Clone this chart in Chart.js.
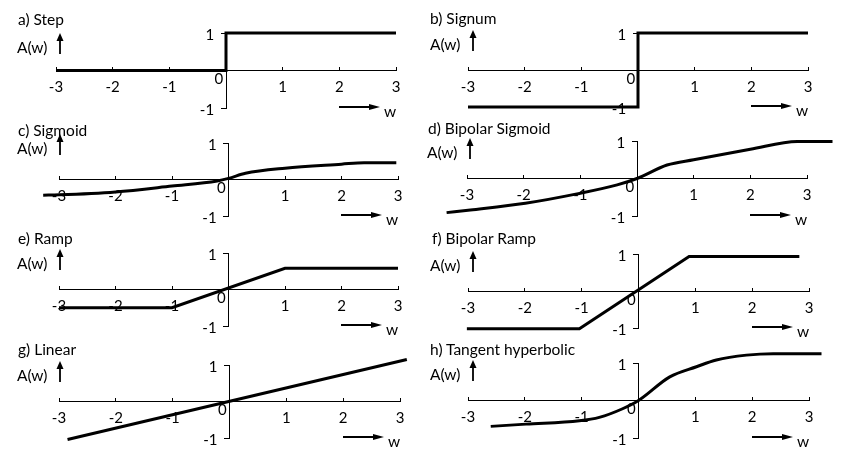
<!DOCTYPE html>
<html>
<head>
<meta charset="utf-8">
<script src="https://cdn.jsdelivr.net/npm/chart.js@4/dist/chart.umd.min.js"></script>
<style>
  body { margin: 0; background: #fff; }
  #wrap { position: relative; width: 850px; height: 459px; overflow: hidden; font-family: Lato, "Open Sans", sans-serif; color: #000; }
  #wrap canvas { position: absolute; left: 0; top: 0; }
  #wrap svg { position: absolute; left: 0; top: 0; }
  .t { position: absolute; font-size: 15.5px; line-height: 16px; white-space: nowrap; }
</style>
</head>
<body>
<div id="wrap"></div>
<script>
(function(){
    // tick labels shared by every panel
    const xTicks = [-3, -2, -1, 1, 2, 3];
    const yTicks = [-1, 1];

    // a) step
    const stepX = [-3, 0, 0, 3];
    const stepY = [0, 0, 1, 1];
    // b) signum
    const signX = [-3, 0, 0, 3];
    const signY = [-1, -1, 1, 1];
    // c) sigmoid
    const sigX = [-3.28, -3, -2, -1, -0.2, 0, 0.3, 1, 2, 2.4, 2.97];
    const sigY = [-0.43, -0.42, -0.34, -0.18, -0.04, 0.03, 0.17, 0.31, 0.42, 0.46, 0.46];
    // d) bipolar sigmoid
    const bsigX = [-3.36, -2.94, -1.97, -1.06, -0.35, 0, 0.53, 1.0, 2.0, 2.83, 3.45];
    const bsigY = [-0.91, -0.84, -0.66, -0.41, -0.17, 0, 0.36, 0.5, 0.78, 0.99, 0.99];
    // e) ramp
    const rampX = [-3, -1, 1, 3];
    const rampY = [-0.5, -0.5, 0.58, 0.58];
    // f) bipolar ramp
    const brampX = [-3.02, -1.04, 0.89, 2.83];
    const brampY = [-1.02, -1.02, 0.93, 0.93];
    // g) linear
    const linX = [-2.85, 3.12];
    const linY = [-1.04, 1.15];
    // h) tangent hyperbolic
    const tanhX = [-2.6, -1.98, -1.04, -0.69, -0.28, 0, 0.55, 1.02, 1.37, 1.9, 2.37, 3.22];
    const tanhY = [-0.69, -0.63, -0.54, -0.45, -0.22, 0, 0.63, 0.9, 1.08, 1.21, 1.25, 1.25];

    const W = 850, H = 459;
    const wrap = document.getElementById('wrap');
    Chart.defaults.font.family = 'Lato, "Open Sans", sans-serif';
    Chart.defaults.color = '#000';

    // box = pixel of [x=-3, x=3, y=1, y=-1]; titleAt / aAt = text anchors
    const panels = [
        { title: 'a) Step', xs: stepX, ys: stepY, box: [56, 396, 33, 108], titleAt: [18, 19], aAt: [17, 47] },
        { title: 'b) Signum', xs: signX, ys: signY, box: [468, 808, 33, 107], titleAt: [430, 18], aAt: [430, 44] },
        { title: 'c) Sigmoid', xs: sigX, ys: sigY, box: [59, 398, 143, 216], titleAt: [18, 130], aAt: [17, 148], smooth: true },
        { title: 'd) Bipolar Sigmoid', xs: bsigX, ys: bsigY, box: [467, 807, 141, 216], titleAt: [428, 128], aAt: [427, 152], smooth: true },
        { title: 'e) Ramp', xs: rampX, ys: rampY, box: [59, 398, 253, 326], titleAt: [18, 238], aAt: [17, 263] },
        { title: 'f) Bipolar Ramp', xs: brampX, ys: brampY, box: [468, 809, 254, 328], titleAt: [432, 238], aAt: [430, 265] },
        { title: 'g) Linear', xs: linX, ys: linY, box: [59, 400, 365, 438], titleAt: [18, 349], aAt: [17, 375] },
        { title: 'h) Tangent hyperbolic', xs: tanhX, ys: tanhY, box: [468, 809, 363, 438], titleAt: [430, 349], aAt: [430, 374], smooth: true }
    ];

    const tickFont = { size: 15 };
    const setTicks = arr => scale => { scale.ticks = arr.map(v => ({ value: v })); };

    function addText(txt, left, cy) {
        const d = document.createElement('div');
        d.className = 't';
        d.textContent = txt;
        d.style.left = left + 'px';
        d.style.top = (cy - 8) + 'px';
        wrap.appendChild(d);
    }

    let svg = '';

    panels.forEach(p => {
        const [L, R, T, B] = p.box;
        const cv = document.createElement('canvas');
        cv.width = W; cv.height = H;
        wrap.appendChild(cv);

        new Chart(cv, {
            type: 'line',
            data: {
                datasets: [{
                    data: p.xs.map((x, i) => ({ x: x, y: p.ys[i] })),
                    borderColor: '#000',
                    borderWidth: 3,
                    pointRadius: 0,
                    clip: false,
                    borderJoinStyle: 'miter',
                    cubicInterpolationMode: p.smooth ? 'monotone' : 'default'
                }]
            },
            options: {
                responsive: false,
                animation: false,
                events: [],
                layout: { padding: { left: L, right: W - R, top: T, bottom: H - B } },
                plugins: { legend: { display: false }, tooltip: { enabled: false } },
                scales: {
                    x: {
                        type: 'linear', min: -3, max: 3, position: { y: 0 },
                        afterBuildTicks: setTicks(xTicks),
                        border: { color: '#000', width: 1 },
                        grid: { drawOnChartArea: false, color: '#000', tickLength: -4 },
                        ticks: { font: tickFont, padding: 12, maxRotation: 0, autoSkip: false, callback: v => String(v) }
                    },
                    y: {
                        type: 'linear', min: -1, max: 1, position: { x: 0 },
                        afterBuildTicks: setTicks(yTicks),
                        border: { color: '#000', width: 1 },
                        grid: { drawOnChartArea: false, color: '#000', tickLength: 5 },
                        ticks: { display: false }
                    },
                    yl: {
                        axis: 'y', type: 'linear', min: -1, max: 1, position: { x: -0.21 },
                        afterBuildTicks: setTicks(yTicks),
                        border: { display: false },
                        grid: { display: false, drawTicks: false },
                        ticks: { font: tickFont, padding: 0, labelOffset: 2, callback: v => String(v) }
                    },
                    yz: {
                        axis: 'y', type: 'linear', min: -1, max: 1, position: { x: -0.05 },
                        afterBuildTicks: setTicks([0]),
                        border: { display: false },
                        grid: { display: false, drawTicks: false },
                        ticks: { font: tickFont, padding: 0, labelOffset: 9, callback: v => String(v) }
                    }
                }
            }
        });

        addText(p.title, p.titleAt[0], p.titleAt[1]);
        addText('A(w)', p.aAt[0], p.aAt[1]);
        addText('w', R - 12, B + 3);

        // up arrow beside A(w)
        const ax = p.aAt[0] + 43, at = p.aAt[1] - 14, ab = p.aAt[1] + 7;
        svg += `<line x1="${ax}" y1="${at + 6}" x2="${ax}" y2="${ab}" stroke="#000" stroke-width="1.8"/>`;
        svg += `<polygon points="${ax - 3.5},${at + 8} ${ax},${at} ${ax + 3.5},${at + 8}" fill="#000"/>`;
        // right arrow beside w
        const x1 = R - 57, x2 = R - 16, wy = B - 1;
        svg += `<line x1="${x1}" y1="${wy}" x2="${x2 - 6}" y2="${wy}" stroke="#000" stroke-width="1.8"/>`;
        svg += `<polygon points="${x2 - 11},${wy - 3} ${x2},${wy} ${x2 - 11},${wy + 3}" fill="#000"/>`;
    });

    const ns = document.createElementNS('http://www.w3.org/2000/svg', 'svg');
    ns.setAttribute('width', W);
    ns.setAttribute('height', H);
    ns.innerHTML = svg;
    wrap.appendChild(ns);
})();
</script>
</body>
</html>
